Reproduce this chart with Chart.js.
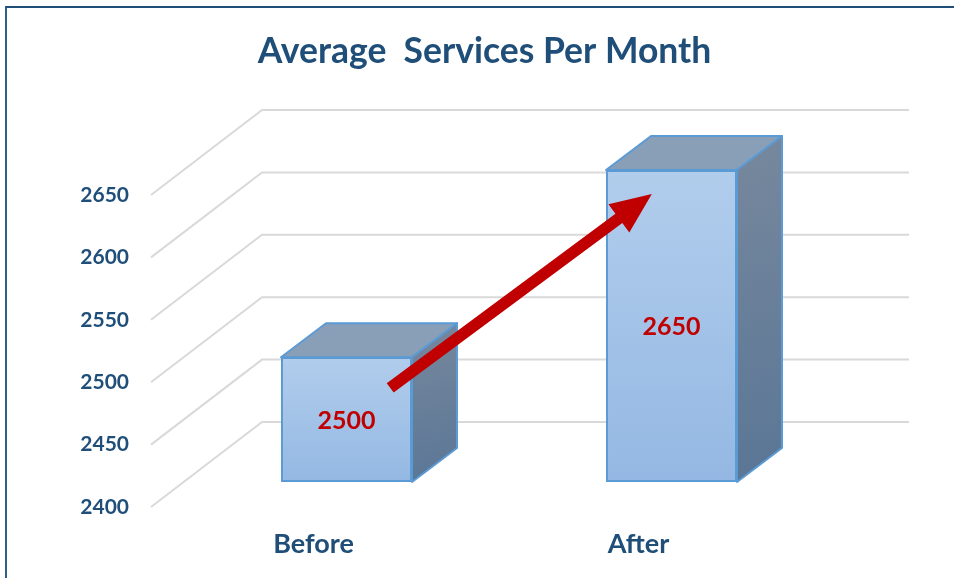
<!DOCTYPE html>
<html>
<head>
<meta charset="utf-8">
<title>Average Services Per Month</title>
<script src="https://cdn.jsdelivr.net/npm/chart.js@4"></script>
<style>
    html, body { margin: 0; padding: 0; background: #fff; overflow: hidden; }
    #frame { position: absolute; left: 5px; top: 6px; right: 0; bottom: 0; border-left: 2px solid #2f5f8f; border-top: 2px solid #1f4e79; }
    #servicesChart { position: absolute; left: 0; top: 0; }
</style>
</head>
<body>
<div id="frame"></div>
<canvas id="servicesChart" width="954" height="578"></canvas>
<script>
const categories = ['Before', 'After'];
const serviceValues = [2500, 2650];
const yTicks = [2400, 2450, 2500, 2550, 2600, 2650];
// arrow runs between these spots, in axis units (category index, services)
const arrowFrom = [0.236, 2495.5];
const arrowTo = [1.041, 2650.8];

const navy = '#1f4e79';
const red = '#c00000';
const gridColor = '#d9d9d9';
const edgeColor = '#5b9bd5';

// fake 3D: floor depth of the whole plot, and where the bars sit inside it
const wallDx = 111, wallDy = 85;
const barShiftX = 33, barShiftY = 25;
const barDx = 45, barDy = 34;

function faceGradient(ctx, x0, y0, x1, y1, from, to) {
    const g = ctx.createLinearGradient(x0, y0, x1, y1);
    g.addColorStop(0, from);
    g.addColorStop(1, to);
    return g;
}

function polygon(ctx, pts, fill) {
    ctx.beginPath();
    pts.forEach((p, i) => i ? ctx.lineTo(p[0], p[1]) : ctx.moveTo(p[0], p[1]));
    ctx.closePath();
    ctx.fillStyle = fill;
    ctx.fill();
    ctx.lineWidth = 2;
    ctx.lineJoin = 'round';
    ctx.strokeStyle = edgeColor;
    ctx.stroke();
}

const depthPlugin = {
    id: 'depth',
    beforeDatasetsDraw(chart) {
        const { ctx, chartArea, scales } = chart;
        // wall lines
        ctx.save();
        ctx.strokeStyle = gridColor;
        ctx.lineWidth = 2;
        yTicks.forEach(v => {
            const y = scales.y.getPixelForValue(v);
            ctx.beginPath();
            ctx.moveTo(chartArea.left, y);
            ctx.lineTo(chartArea.left + wallDx, y - wallDy);
            ctx.lineTo(chartArea.right + 108, y - wallDy);
            ctx.stroke();
        });
        ctx.restore();

        // bars are moved into the floor, restored in afterDatasetsDraw
        ctx.save();
        ctx.translate(barShiftX, -barShiftY);
        chart.getDatasetMeta(0).data.forEach(bar => {
            const l = bar.x - bar.width / 2, r = bar.x + bar.width / 2;
            polygon(ctx, [[l, bar.y], [l + barDx, bar.y - barDy], [r + barDx, bar.y - barDy], [r, bar.y]], '#899fb8');
            polygon(ctx, [[r, bar.y], [r + barDx, bar.y - barDy], [r + barDx, bar.base - barDy], [r, bar.base]],
                faceGradient(ctx, r, bar.y - barDy, r + barDx, bar.base, '#77889d', '#5a7696'));
        });
    },
    afterDatasetsDraw(chart) {
        const { ctx } = chart;
        ctx.fillStyle = red;
        ctx.font = 'bold 25px Lato';
        ctx.textAlign = 'center';
        ctx.textBaseline = 'middle';
        chart.getDatasetMeta(0).data.forEach((bar, i) => {
            ctx.fillText(String(serviceValues[i]), bar.x, (bar.y + bar.base) / 2 + 1);
        });
        ctx.restore();
    },
    afterDraw(chart) {
        const { ctx, scales } = chart;
        const x0 = scales.x.getPixelForValue(arrowFrom[0]), y0 = scales.y.getPixelForValue(arrowFrom[1]);
        const x1 = scales.x.getPixelForValue(arrowTo[0]), y1 = scales.y.getPixelForValue(arrowTo[1]);
        const len = Math.hypot(x1 - x0, y1 - y0);
        const headLen = 41, headHalf = 17.5, shaftHalf = 5.8;
        ctx.save();
        ctx.translate(x0, y0);
        ctx.rotate(Math.atan2(y1 - y0, x1 - x0));
        ctx.beginPath();
        ctx.moveTo(0, -shaftHalf);
        ctx.lineTo(len - headLen, -shaftHalf);
        ctx.lineTo(len - headLen, -headHalf);
        ctx.lineTo(len, 0);
        ctx.lineTo(len - headLen, headHalf);
        ctx.lineTo(len - headLen, shaftHalf);
        ctx.lineTo(0, shaftHalf);
        ctx.closePath();
        ctx.fillStyle = red;
        ctx.fill();
        ctx.restore();
    }
};

new Chart(document.getElementById('servicesChart'), {
    type: 'bar',
    data: {
        labels: categories,
        datasets: [{
            data: serviceValues,
            base: yTicks[0],
            backgroundColor: function(c) {
                const { chart, parsed } = c;
                if (!chart.chartArea || !parsed) return '#a5c3e8';
                const y = chart.scales.y;
                return faceGradient(chart.ctx, 0, y.getPixelForValue(parsed.y), 0, y.bottom, '#b1cdec', '#94b8e3');
            },
            borderColor: edgeColor,
            borderWidth: 2,
            borderSkipped: false,
            barPercentage: 0.403,
            categoryPercentage: 1,
            clip: false
        }]
    },
    options: {
        responsive: false,
        animation: false,
        layout: { padding: { left: 15, right: 0, top: 0, bottom: 0 } },
        plugins: {
            legend: { display: false },
            tooltip: { enabled: false },
            title: {
                display: true,
                text: 'Average  Services Per Month',
                color: navy,
                font: { family: 'Lato', size: 35.5, weight: 'bold' },
                padding: { top: 30, bottom: 122.4 }
            }
        },
        scales: {
            y: {
                min: yTicks[0],
                max: yTicks[yTicks.length - 1],
                afterBuildTicks: axis => { axis.ticks = yTicks.map(v => ({ value: v })); },
                afterFit: axis => { axis.width = 136; },
                grid: { display: false },
                border: { display: false },
                ticks: {
                    color: navy,
                    padding: 14,
                    callback: value => String(value),
                    font: { family: 'Lato', size: 21, weight: 'bold' }
                }
            },
            // empty strip on the right so the title centres over the whole frame
            rightGap: {
                position: 'right',
                afterFit: axis => { axis.width = 153; },
                grid: { display: false },
                border: { display: false },
                ticks: { display: false }
            },
            x: {
                afterFit: axis => { axis.height = 71; },
                grid: { display: false },
                border: { display: false },
                ticks: {
                    color: navy,
                    padding: 13,
                    font: { family: 'Lato', size: 27, weight: 'bold' }
                }
            }
        }
    },
    plugins: [depthPlugin]
});
</script>
</body>
</html>
